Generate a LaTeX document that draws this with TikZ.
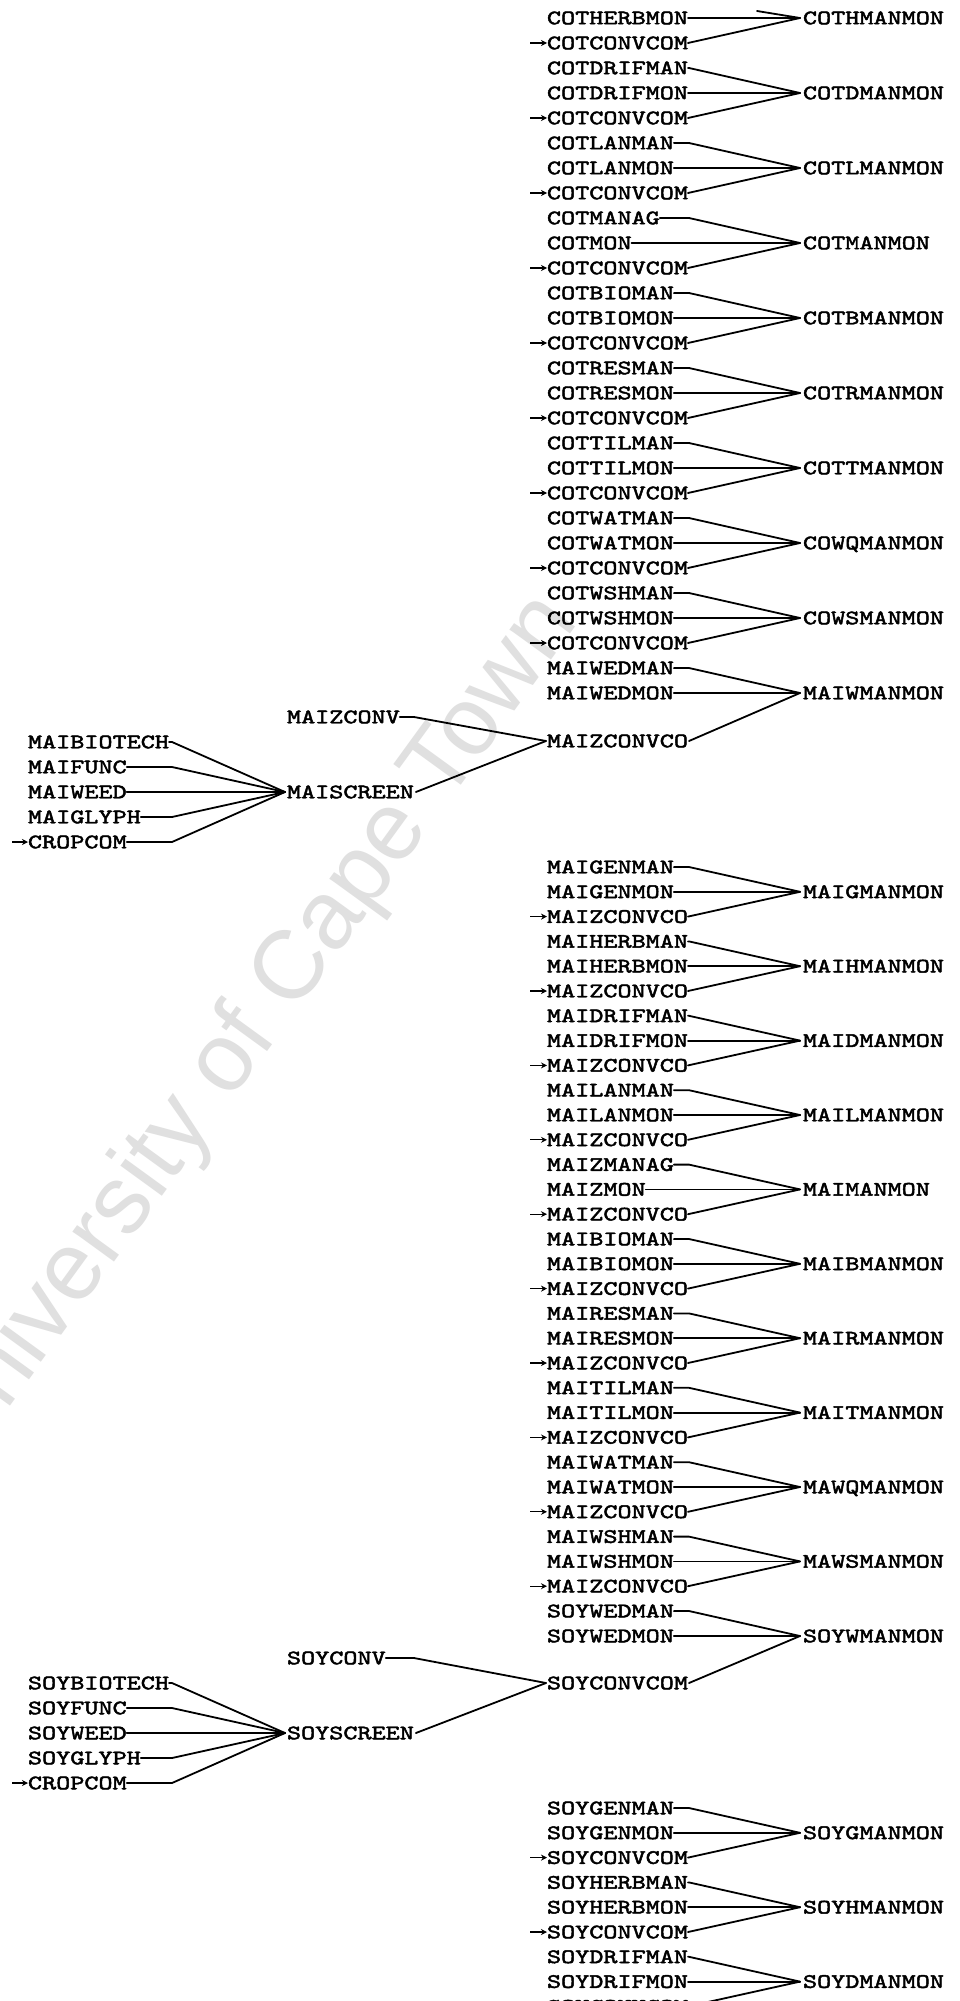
\documentclass[tikz,border=0pt]{standalone}
\usepackage{fontspec}
\usetikzlibrary{arrows.meta,calc}
\newfontfamily\tw[FakeStretch=1.31, FakeBold=2.3]{lmmono10-regular.otf}
\newfontfamily\wmf{Liberation Sans}
\tikzset{
  lbl/.style={anchor=west, inner xsep=0pt, inner ysep=0pt, outer sep=0pt,
    text height=12.5pt, text depth=0pt, font=\tw\fontsize{20.5}{24}\selectfont},
  tgt/.style={lbl, inner xsep=3pt},
  ln/.style={line width=1.8pt, line join=round, line cap=round},
  arr/.style={line width=1.3pt, -{Stealth[length=6pt,width=6pt]}},
}
\newcommand{\rs}{25}
% #1 id, #2 y of first row, #3 MAN, #4 MON, #5 CONV, #6 target
\newcommand{\mgroup}[6]{%
  \node[lbl] (#1m) at (547,#2) {#3};
  \node[lbl] (#1n) at (547,{#2+\rs}) {#4};
  \node[lbl] (#1c) at (547,{#2+2*\rs}) {#5};
  \node[tgt] (#1t) at (800,{#2+\rs}) {#6};
  \coordinate (#1a) at (530,{#2+2*\rs});
  \draw[ln] (#1m.east) -- (#1m.east -| bx) -- (#1t.west);
  \draw[ln] (#1n.east) -- (#1t.west);
  \draw[ln] (#1c.east) -- (#1t.west);
  \draw[arr] (#1a) -- (#1c.west);
}
\begin{document}
\begin{tikzpicture}[x=1pt,y=-1pt]
\useasboundingbox (0,0) rectangle (960,2001);
\clip (0,0) rectangle (960,2001);
\fill[white] (0,0) rectangle (960,2001);
% watermark
\node[rotate=54, text=black!12, font=\wmf\fontsize{97}{97}\selectfont, inner sep=0pt] (wmk) at (252,1030) {University of Cape Town};

\coordinate (bx) at (689,0);
\coordinate (bl) at (172,0);
\coordinate (bm) at (414,0);

% ---------- top block (cotton) ----------
\renewcommand{\rs}{25}
\node[lbl] (c0n) at (547,18) {COTHERBMON};
\node[lbl] (c0c) at (547,43) {COTCONVCOM};
\node[tgt] (c0t) at (800,18) {COTHMANMON};
\coordinate (c0a) at (530,43);
\coordinate (cut) at (757,11);
\draw[ln] (cut) -- (c0t.west);
\draw[ln] (c0n.east) -- (c0t.west);
\draw[ln] (c0c.east) -- (c0t.west);
\draw[arr] (c0a) -- (c0c.west);

\mgroup{c1}{68}{COTDRIFMAN}{COTDRIFMON}{COTCONVCOM}{COTDMANMON}
\mgroup{c2}{143}{COTLANMAN}{COTLANMON}{COTCONVCOM}{COTLMANMON}
\mgroup{c3}{218}{COTMANAG}{COTMON}{COTCONVCOM}{COTMANMON}
\mgroup{c4}{293}{COTBIOMAN}{COTBIOMON}{COTCONVCOM}{COTBMANMON}
\mgroup{c5}{368}{COTRESMAN}{COTRESMON}{COTCONVCOM}{COTRMANMON}
\mgroup{c6}{443}{COTTILMAN}{COTTILMON}{COTCONVCOM}{COTTMANMON}
\mgroup{c7}{518}{COTWATMAN}{COTWATMON}{COTCONVCOM}{COWQMANMON}
\mgroup{c8}{593}{COTWSHMAN}{COTWSHMON}{COTCONVCOM}{COWSMANMON}

% maize weed group
\node[lbl] (mwm) at (547,668) {MAIWEDMAN};
\node[lbl] (mwn) at (547,693) {MAIWEDMON};
\node[tgt] (mwt) at (800,693) {MAIWMANMON};
\node[lbl, inner xsep=1pt] (mcc) at (546,741) {MAIZCONVCO};
\draw[ln] (mwm.east) -- (mwm.east -| bx) -- (mwt.west);
\draw[ln] (mwn.east) -- (mwt.west);
\draw[ln] (mcc.east) -- (mwt.west);

% maize screen fan
\node[lbl] (mzc) at (287,717) {MAIZCONV};
\node[tgt, inner xsep=2pt] (msc) at (285,792) {MAISCREEN};
\node[lbl] (mbt) at (28,742) {MAIBIOTECH};
\node[lbl] (mfu) at (28,767) {MAIFUNC};
\node[lbl] (mwe) at (28,792) {MAIWEED};
\node[lbl] (mgl) at (28,817) {MAIGLYPH};
\node[lbl] (mcr) at (28,842) {CROPCOM};
\coordinate (mca) at (12,842);
\foreach \n in {mbt,mfu,mwe,mgl,mcr}
  \draw[ln] (\n.east) -- (\n.east -| bl) -- (msc.west);
\draw[arr] (mca) -- (mcr.west);
\draw[ln] (mzc.east) -- (mzc.east -| bm) -- (mcc.west);
\draw[ln] (msc.east) -- (mcc.west);

% ---------- middle block (maize) ----------
\renewcommand{\rs}{24.8}
\mgroup{m0}{867}{MAIGENMAN}{MAIGENMON}{MAIZCONVCO}{MAIGMANMON}
\mgroup{m1}{941.4}{MAIHERBMAN}{MAIHERBMON}{MAIZCONVCO}{MAIHMANMON}
\mgroup{m2}{1015.8}{MAIDRIFMAN}{MAIDRIFMON}{MAIZCONVCO}{MAIDMANMON}
\mgroup{m3}{1090.2}{MAILANMAN}{MAILANMON}{MAIZCONVCO}{MAILMANMON}
\mgroup{m4}{1164.6}{MAIZMANAG}{MAIZMON}{MAIZCONVCO}{MAIMANMON}
\mgroup{m5}{1239}{MAIBIOMAN}{MAIBIOMON}{MAIZCONVCO}{MAIBMANMON}
\mgroup{m6}{1313.4}{MAIRESMAN}{MAIRESMON}{MAIZCONVCO}{MAIRMANMON}
\mgroup{m7}{1387.8}{MAITILMAN}{MAITILMON}{MAIZCONVCO}{MAITMANMON}
\mgroup{m8}{1462.2}{MAIWATMAN}{MAIWATMON}{MAIZCONVCO}{MAWQMANMON}
\mgroup{m9}{1536.6}{MAIWSHMAN}{MAIWSHMON}{MAIZCONVCO}{MAWSMANMON}

% soy weed group
\node[lbl] (swm) at (547,1611) {SOYWEDMAN};
\node[lbl] (swn) at (547,1636) {SOYWEDMON};
\node[tgt] (swt) at (800,1636) {SOYWMANMON};
\node[lbl, inner xsep=1pt] (scc) at (546,1683) {SOYCONVCOM};
\draw[ln] (swm.east) -- (swm.east -| bx) -- (swt.west);
\draw[ln] (swn.east) -- (swt.west);
\draw[ln] (scc.east) -- (swt.west);

% soy screen fan
\node[lbl] (szc) at (287,1658) {SOYCONV};
\node[tgt, inner xsep=2pt] (ssc) at (285,1733) {SOYSCREEN};
\node[lbl] (sbt) at (28,1683) {SOYBIOTECH};
\node[lbl] (sfu) at (28,1708) {SOYFUNC};
\node[lbl] (swe) at (28,1733) {SOYWEED};
\node[lbl] (sgl) at (28,1758) {SOYGLYPH};
\node[lbl] (scr) at (28,1783) {CROPCOM};
\coordinate (sca) at (12,1783);
\foreach \n in {sbt,sfu,swe,sgl,scr}
  \draw[ln] (\n.east) -- (\n.east -| bl) -- (ssc.west);
\draw[arr] (sca) -- (scr.west);
\draw[ln] (szc.east) -- (szc.east -| bm) -- (scc.west);
\draw[ln] (ssc.east) -- (scc.west);

% ---------- bottom block (soy) ----------
\mgroup{s0}{1808}{SOYGENMAN}{SOYGENMON}{SOYCONVCOM}{SOYGMANMON}
\mgroup{s1}{1882.4}{SOYHERBMAN}{SOYHERBMON}{SOYCONVCOM}{SOYHMANMON}
\mgroup{s2}{1956.8}{SOYDRIFMAN}{SOYDRIFMON}{SOYCONVCOM}{SOYDMANMON}
\end{tikzpicture}
\end{document}
